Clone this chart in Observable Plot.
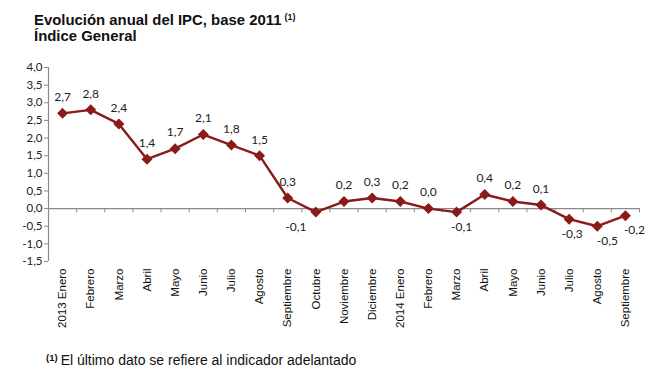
<!DOCTYPE html>
<html>
<head>
<meta charset="utf-8">
<script src="https://cdn.jsdelivr.net/npm/d3@7"></script>
<script src="https://cdn.jsdelivr.net/npm/@observablehq/plot@0.6"></script>
<style>
  html, body { margin: 0; padding: 0; background: #fff; }
  #wrap { position: relative; width: 650px; height: 371px; overflow: hidden; font-family: "Liberation Sans", Arial, sans-serif; }
  #chart { position: absolute; left: 0; top: 0; }
  .title { position: absolute; left: 34px; font-weight: bold; font-size: 14.9px; line-height: 15px; color: #111; white-space: nowrap; }
  .sup { font-size: 9px; position: relative; top: -5px; margin-left: 3px; }
  .note { position: absolute; left: 46px; top: 353px; font-size: 14px; line-height: 14px; color: #111; white-space: nowrap; }
  .note .sup { font-size: 9.5px; top: -4px; font-weight: bold; margin-left: 0; margin-right: 3px; }
</style>
</head>
<body>
<div id="wrap">
  <div id="chart"></div>
  <div class="title" style="top:13px">Evolución anual del IPC, base 2011<span class="sup">(1)</span></div>
  <div class="title" style="top:29px">Índice General</div>
  <div class="note"><span class="sup">(1)</span>El último dato se refiere al indicador adelantado</div>
</div>
<script>
// ---- data ----
const months = ["2013 Enero", "Febrero", "Marzo", "Abril", "Mayo", "Junio", "Julio", "Agosto",
  "Septiembre", "Octubre", "Noviembre", "Diciembre", "2014 Enero", "Febrero", "Marzo", "Abril",
  "Mayo", "Junio", "Julio", "Agosto", "Septiembre"];
const ipc = [2.7, 2.8, 2.4, 1.4, 1.7, 2.1, 1.8, 1.5, 0.3, -0.1, 0.2, 0.3, 0.2, 0.0, -0.1, 0.4,
  0.2, 0.1, -0.3, -0.5, -0.2];
const yTicks = [-1.5, -1.0, -0.5, 0.0, 0.5, 1.0, 1.5, 2.0, 2.5, 3.0, 3.5, 4.0];

// ---- styles ----
const red = "#8B1A1A";
const grey = "#8a8a8a";
const labelShiftX = {9: -20, 14: 5, 18: 3, 19: 10, 20: 9};

const rows = ipc.map((v, i) => ({i, v, label: v.toFixed(1).replace(".", ",")}));
const fmt = d => d.toFixed(1).replace(".", ",");
const boundaries = d3.range(months.length + 1).map(k => k - 0.5);

const shifts = Array.from(new Set(rows.map(r => labelShiftX[r.i] || 0)));
const labelMarks = [];
for (const s of shifts) {
  for (const neg of [false, true]) {
    const sub = rows.filter(r => (labelShiftX[r.i] || 0) === s && (r.v < 0) === neg);
    if (!sub.length) continue;
    labelMarks.push(Plot.text(sub, {
      x: "i", y: "v", text: "label", dx: s, dy: neg ? 15 : -16,
      fontSize: 12, fontFamily: "Lato, 'Open Sans', sans-serif", fill: "#222"
    }));
  }
}

const chart = Plot.plot({
  width: 650,
  height: 371,
  marginLeft: 48,
  marginRight: 11,
  marginTop: 67,
  marginBottom: 110,
  x: {type: "linear", domain: [-0.5, months.length - 0.5], label: null},
  y: {domain: [-1.5, 4.0], label: null},
  marks: [
    Plot.ruleX([-0.5], {y1: -1.5, y2: 4.0, stroke: grey, strokeWidth: 1.2}),
    Plot.axisY({
      ticks: yTicks, tickFormat: fmt, tickSize: 4, tickPadding: 2, label: null,
      stroke: grey, fill: "#222", fontSize: 11.5, fontFamily: "Lato, 'Open Sans', sans-serif"
    }),
    Plot.ruleY([0], {x1: -0.5, x2: months.length - 0.5, stroke: grey, strokeWidth: 1.2}),
    Plot.ruleX(boundaries, {y1: 0, y2: -0.12, stroke: grey}),
    Plot.axisX({
      ticks: d3.range(months.length), tickFormat: i => months[i], tickRotate: -90, label: null,
      tickSize: 0, tickPadding: 7, fontSize: 11.5, fill: "#111",
      fontFamily: "'Liberation Sans', Arial, sans-serif"
    }),
    Plot.line(rows, {x: "i", y: "v", stroke: red, strokeWidth: 2.4}),
    Plot.dot(rows, {x: "i", y: "v", symbol: "diamond2", r: 4, fill: red, stroke: red}),
    ...labelMarks
  ]
});
document.getElementById("chart").appendChild(chart);
</script>
</body>
</html>
